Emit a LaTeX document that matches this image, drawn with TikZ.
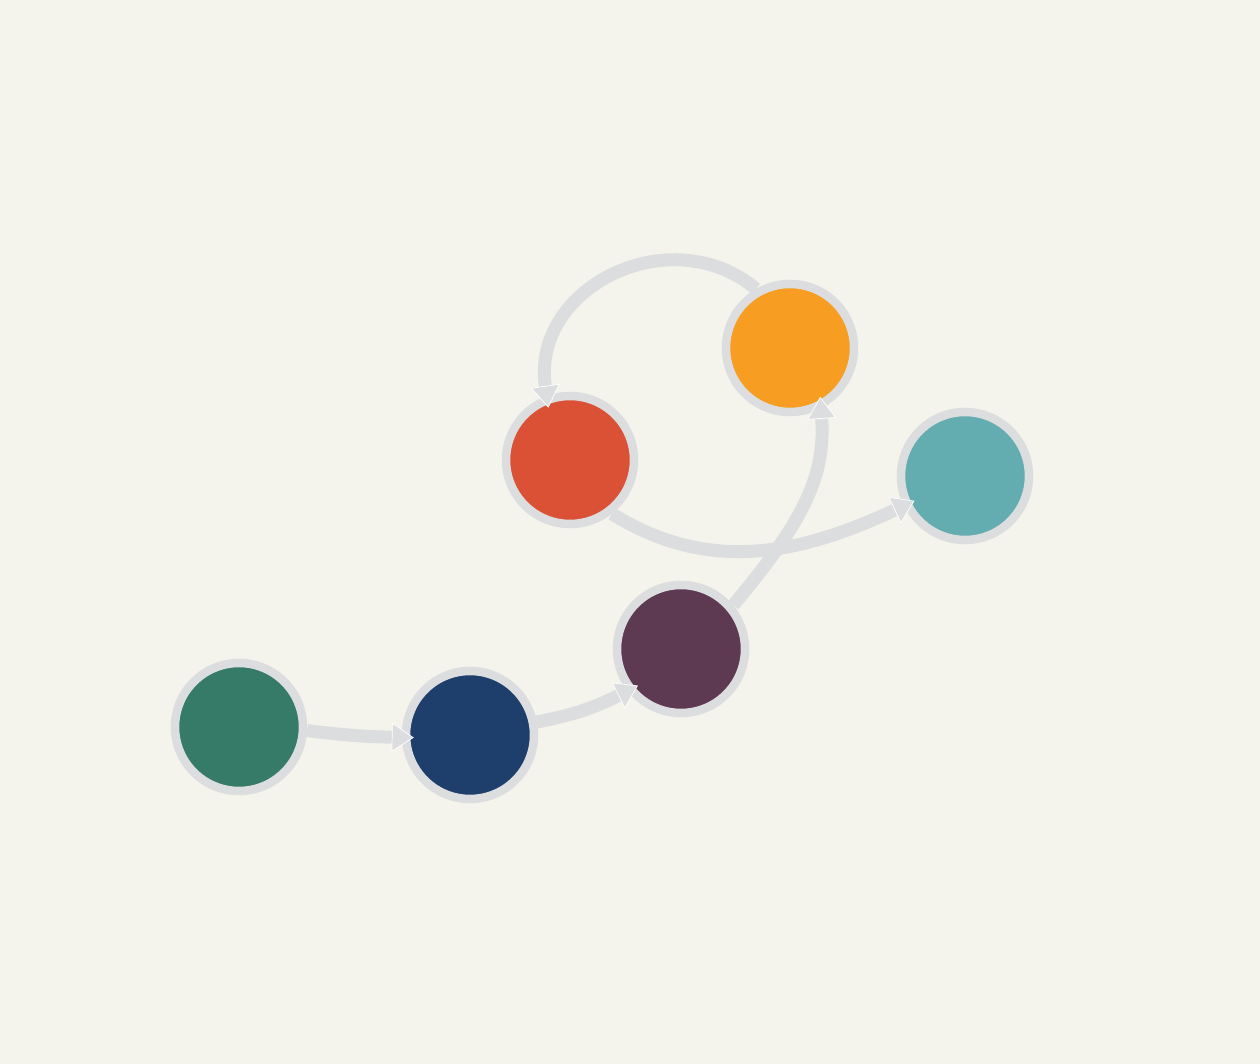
\documentclass[tikz,border=0pt]{standalone}
\usetikzlibrary{arrows.meta}

\definecolor{fondo}{HTML}{F4F3EC}
\definecolor{borde}{HTML}{DCDDDF}
\definecolor{verde}{HTML}{367B68}
\definecolor{azul}{HTML}{1E3E6B}
\definecolor{morado}{HTML}{5E3A52}
\definecolor{rojo}{HTML}{DB5136}
\definecolor{naranja}{HTML}{F79D21}
\definecolor{turquesa}{HTML}{63ADB0}

\tikzset{
  nodo/.style={circle, draw=borde, line width=0.17cm, minimum size=2.56cm, inner sep=0pt},
  flecha/.style={draw=borde, line width=0.26cm, shorten >=-0.24cm,
    -{Triangle[length=0.44cm, width=0.58cm, line width=0.4pt, color=white, fill=borde]}}
}

\begin{document}
\begin{tikzpicture}[x=0.02cm, y=0.02cm]
			% Fondo y margenes
			\fill[fondo] (0,0) rectangle (1260,1064);
			\useasboundingbox (0,0) rectangle (1260,1064);

			% Dibujar los nodos
			\node[nodo, fill=verde] (verde) at (239,337) {};
			\node[nodo, fill=azul] (azul) at (470,329) {};
			\node[nodo, fill=morado] (morado) at (681,415) {};
			\node[nodo, fill=rojo] (rojo) at (570,604) {};
			\node[nodo, fill=naranja] (naranja) at (790,716) {};
			\node[nodo, fill=turquesa] (turquesa) at (965,588) {};

			% Dibujar las flechas
			\draw[flecha] (verde.-3) to[bend right=3] (azul.182);
			\draw[flecha] (azul.11) to[bend right=8] (morado.218);
			\draw[flecha] (morado.40) to[out=50, in=-86, out looseness=1.3, in looseness=0.8] (naranja.-63);
			\draw[flecha] (rojo.-52) to[out=-32, in=205] (turquesa.206);
			\draw[flecha] (naranja.120) to[out=140, in=98, looseness=1.2] (rojo.110);

		\end{tikzpicture}
\end{document}
